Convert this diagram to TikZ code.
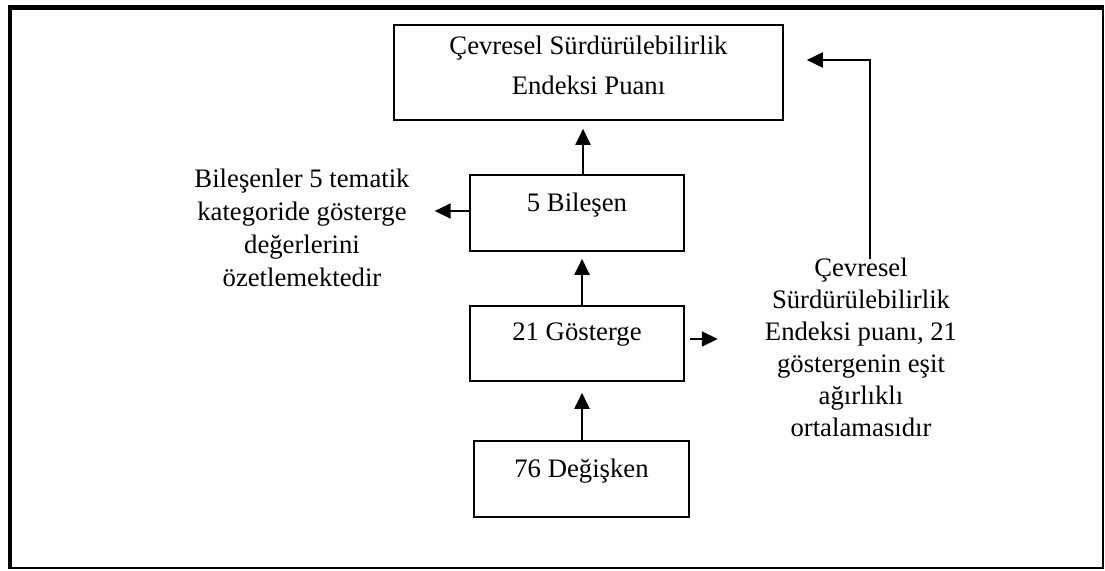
\documentclass[tikz,border=0pt]{standalone}
\usepackage{fontspec}
\setmainfont{Liberation Serif}
\usetikzlibrary{arrows.meta}

\tikzset{
  box/.style={draw=black, line width=1.6pt, rectangle, inner xsep=0pt, inner ysep=0pt,
              font=\fontsize{26.7}{32}\selectfont, anchor=base},
  txt/.style={inner sep=0pt, anchor=base, font=\fontsize{26.7}{32}\selectfont},
  arr/.style={line width=2pt, -{Triangle[length=16pt, width=15pt]}},
}

\begin{document}
\begin{tikzpicture}[x=1pt, y=-1pt]
  \useasboundingbox (0,0) rectangle (1105,570);

  % outer frame: thin right/bottom edges, heavy top/left edges
  \draw[line width=1.6pt] (10,7.5) -- (1103.2,7.5) -- (1103.2,568) -- (10,568);
  \draw[line width=5pt] (8,7.5) -- (1104.2,7.5);
  \draw[line width=4.4pt] (10.2,5) -- (10.2,569);

  % boxes (anchor = baseline of the first text line)
  \node[box, minimum width=389pt, text height=29pt, text depth=66pt] (score) at (588.5,54)
    {\begin{tabular}[t]{@{}c@{}}Çevresel Sürdürülebilirlik\\[8pt]Endeksi Puanı\end{tabular}};
  \node[box, minimum width=214pt, text height=36pt, text depth=40pt] (bil) at (577,211) {5 Bileşen};
  \node[box, minimum width=214pt, text height=34pt, text depth=41pt] (gos) at (577,340) {21 Gösterge};
  \node[box, minimum width=215pt, text height=36pt, text depth=40pt] (deg) at (581.5,477) {76 Değişken};

  % side notes
  \node[txt, font=\fontsize{26.7}{33}\selectfont] (lnote) at (302,187)
    {\begin{tabular}[t]{@{}c@{}}Bileşenler 5 tematik\\kategoride gösterge\\değerlerini\\özetlemektedir\end{tabular}};
  \node[txt] (rnote) at (861,276)
    {\begin{tabular}[t]{@{}c@{}}Çevresel\\Sürdürülebilirlik\\Endeksi puanı, 21\\göstergenin eşit\\ağırlıklı\\ortalamasıdır\end{tabular}};

  % hierarchy arrows
  \draw[arr, shorten >=8pt] ([xshift=6pt]bil.north) -- ([xshift=6pt]bil.north |- score.south);
  \draw[arr, shorten >=7pt] ([xshift=5pt]gos.north) -- ([xshift=5pt]gos.north |- bil.south);
  \draw[arr, shorten >=11pt] ([xshift=0.5pt]deg.north) -- ([xshift=0.5pt]deg.north |- gos.south);

  % side arrows
  \draw[arr, shorten >=25pt] ([yshift=2pt]bil.west) -- ([yshift=2pt]bil.west -| lnote.east);
  \coordinate (gosout) at ([xshift=5pt, yshift=4.5pt]gos.east);
  \draw[arr, shorten >=47pt] (gosout) -- (gosout -| rnote.west);
  \draw[arr, shorten >=23pt] ([xshift=9pt, yshift=-6pt]rnote.north) |- ([yshift=12.5pt]score.east);
\end{tikzpicture}
\end{document}
